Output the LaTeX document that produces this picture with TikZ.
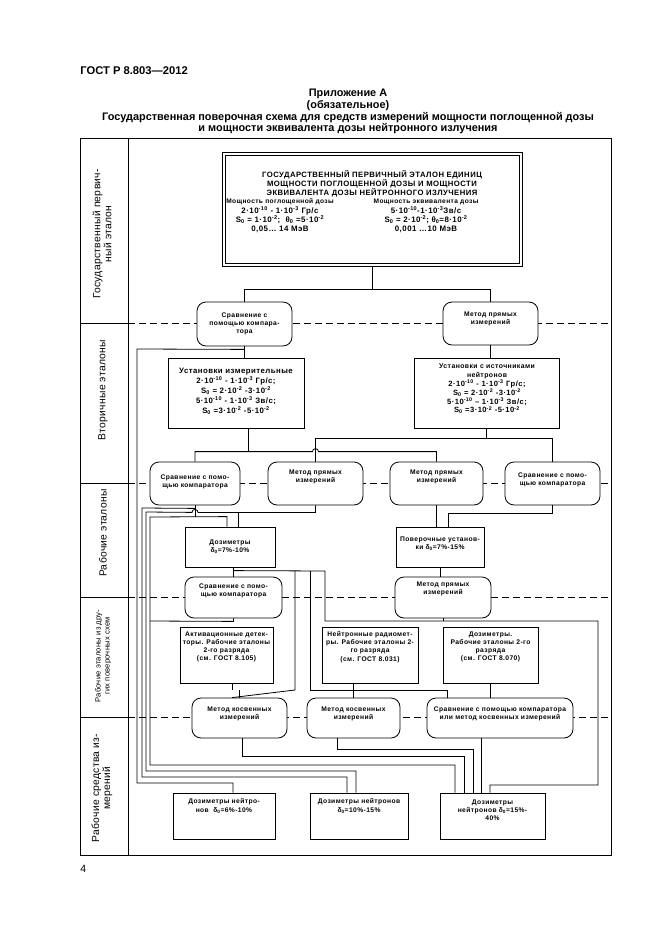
\documentclass[tikz,border=0pt]{standalone}
\usepackage{fontspec}
\setmainfont{Liberation Sans}
\newfontfamily\bxf[LetterSpace=6]{Liberation Sans}
\newfontfamily\lsf[LetterSpace=3]{Liberation Sans}
\usetikzlibrary{calc}
\newcommand\sups[1]{\textsuperscript{#1}}
\newcommand\subs[1]{\textsubscript{#1}}
\newcommand\bxat[6]{%
  \pgfmathsetmacro\bxw{#5-#3}\pgfmathsetmacro\bxh{#6-#4}%
  \pgfmathsetmacro\bxcx{(#3+#5)/2}\pgfmathsetmacro\bxcy{(#4+#6)/2}%
  \node[#2, minimum width=\bxw pt, minimum height=\bxh pt] (#1) at (\bxcx,\bxcy) {};}
\begin{document}
\begin{tikzpicture}[x=1pt,y=-1pt,line width=0.8pt,
  box/.style={draw,fill=white,inner sep=0pt},
  rbox/.style={draw,fill=white,rounded corners=9pt,inner sep=0pt},
  txt/.style={font=\bxf\bfseries\fontsize{6.7}{8.2}\selectfont,align=center,inner sep=0pt},
  btxt/.style={font=\bxf\bfseries\fontsize{7.8}{10}\selectfont,align=center,inner sep=0pt},
  lbl/.style={rotate=90,align=center,font=\lsf\fontsize{10.3}{11}\selectfont,inner sep=0pt},
  rowsep/.style={dash pattern=on 7pt off 4pt},
]
\useasboundingbox (0,0) rectangle (661,936);
\fill[white] (0,0) rectangle (661,936);

% header
\node[anchor=west,font=\bfseries\fontsize{11.2}{13}\selectfont,inner sep=0pt] (hdr) at (80,71) {ГОСТ Р 8.803—2012};
\node[anchor=north,font=\bfseries\fontsize{10.9}{11.7}\selectfont,align=center,inner sep=0pt] (ttl) at (348,89)
 {Приложение А\\(обязательное)\\Государственная поверочная схема для средств измерений мощности поглощенной дозы\\и мощности эквивалента дозы нейтронного излучения};
\node[anchor=west,font=\fontsize{10.5}{12}\selectfont,inner sep=0pt] (pg) at (80,869) {4};

% frame and rows
\draw (80,138) rectangle (611,855);
\draw (128,138) -- (128,855);
\foreach \yy in {323,483,597,717} {
  \draw (80,\yy) -- (128,\yy);
  \draw[rowsep] (128,\yy) -- (611,\yy);
}
\node[lbl] (L1) at (102,234) {Государственный первич-\\ный эталон};
\node[lbl] (L2) at (103,390) {Вторичные эталоны};
\node[lbl] (L3) at (103,533) {Рабочие эталоны};
\node[lbl,font=\lsf\fontsize{7.6}{9}\selectfont] (L4) at (103,656) {Рабочие эталоны из дру-\\гих поверочных схем};
\node[lbl] (L5) at (102,788) {Рабочие средства из-\\мерений};

% primary standard
\bxat{PE}{box}{222}{152}{522}{266}
\draw ($(PE.north west)+(3.5,3.5)$) rectangle ($(PE.south east)+(-3.5,-3.5)$);
\node[font=\bxf\bfseries\fontsize{7.7}{9}\selectfont,align=center,inner sep=0pt] (PEt) at (372,184)
 {ГОСУДАРСТВЕННЫЙ ПЕРВИЧНЫЙ ЭТАЛОН ЕДИНИЦ\\МОЩНОСТИ ПОГЛОЩЕННОЙ ДОЗЫ И МОЩНОСТИ\\ЭКВИВАЛЕНТА ДОЗЫ НЕЙТРОННОГО ИЗЛУЧЕНИЯ};
\node[font=\bxf\bfseries\fontsize{7.9}{9.3}\selectfont,align=center,inner sep=0pt] (PEl) at (280,216)
 {{\fontsize{6.6}{9.3}\selectfont Мощность поглощенной дозы}\\2·10\sups{-10} - 1·10\sups{-3} Гр/с\\S\subs{0} = 1·10\sups{-2};\ \ θ\subs{0} =5·10\sups{-2}\\0,05… 14 МэВ};
\node[font=\bxf\bfseries\fontsize{7.9}{9.3}\selectfont,align=center,inner sep=0pt] (PEr) at (426,216)
 {{\fontsize{6.6}{9.3}\selectfont Мощность эквивалента дозы}\\5·10\sups{-10}-1·10\sups{-3}Зв/с\\S\subs{0} = 2·10\sups{-2}; θ\subs{0}=8·10\sups{-2}\\0,001 …10 МэВ};

% row 1/2 ovals
\bxat{C1}{rbox}{197}{302}{292}{346}
\bxat{M1}{rbox}{443}{302}{538}{345}
\node[txt] (tC1) at (244.5,324) {Сравнение с\\помощью компара-\\тора};
\node[txt] (tM1) at (490.5,319) {Метод прямых\\измерений};

% secondary boxes
\bxat{B1}{box}{168}{358}{304}{428}
\bxat{B2}{box}{414}{358}{559}{428}
\node[btxt] (tB1) at (236,391) {Установки измерительные\\2·10\sups{-10} - 1·10\sups{-3} Гр/с;\\S\subs{0} = 2·10\sups{-2} -3·10\sups{-2}\\5·10\sups{-10} - 1·10\sups{-3} Зв/с;\\S\subs{0} =3·10\sups{-2} -5·10\sups{-2}};
\node[btxt,font=\bxf\bfseries\fontsize{7.6}{8.8}\selectfont] (tB2) at (487,389) {{\fontsize{6.9}{8.8}\selectfont Установки с источниками}\\{\fontsize{6.9}{8.8}\selectfont нейтронов}\\2·10\sups{-10} - 1·10\sups{-3} Гр/с;\\S\subs{0} = 2·10\sups{-2} -3·10\sups{-2}\\5·10\sups{-10} – 1·10\sups{-3} Зв/с;\\S\subs{0} =3·10\sups{-2} -5·10\sups{-2}};

% row 2/3 ovals
\bxat{o1}{rbox}{150}{462}{240}{505}
\bxat{o2}{rbox}{268}{462}{363}{505}
\bxat{o3}{rbox}{390}{462}{483}{505}
\bxat{o4}{rbox}{505}{462}{600}{505}
\node[txt] (to1) at (195,482) {Сравнение с помо-\\щью компаратора};
\node[txt] (to2) at (315.5,477) {Метод прямых\\измерений};
\node[txt] (to3) at (436.5,477) {Метод прямых\\измерений};
\node[txt] (to4) at (552.5,480) {Сравнение с помо-\\щью компаратора};

% working standards
\bxat{D0}{box}{185}{527}{275}{567}
\bxat{P}{box}{396}{527}{484}{567}
\node[txt] (tD0) at (230,547) {Дозиметры\\δ\subs{0}=7\%-10\%};
\node[txt] (tP) at (440,544) {Поверочные установ-\\ки δ\subs{0}=7\%-15\%};

\bxat{S3}{rbox}{185}{577}{282}{618}
\bxat{MP}{rbox}{395}{577}{491}{618}
\node[txt] (tS3) at (233.5,591) {Сравнение с помо-\\щью компаратора};
\node[txt] (tMP) at (443,589) {Метод прямых\\измерений};

% other schemes
\bxat{A}{box}{180}{627}{273}{683}
\bxat{B}{box}{322}{627}{418}{683}
\bxat{C}{box}{443}{627}{538}{683}
\node[txt] (tA) at (226.5,647) {Активационные детек-\\торы. Рабочие эталоны\\2-го разряда\\(см. ГОСТ 8.105)};
\node[txt] (tB) at (370,647) {Нейтронные радиомет-\\ры. Рабочие эталоны 2-\\го разряда\\(см. ГОСТ 8.031)};
\node[txt] (tC) at (490.5,647) {Дозиметры.\\Рабочие эталоны 2-го\\разряда\\(см. ГОСТ 8.070)};

\bxat{K1}{rbox}{192}{698}{287}{738}
\bxat{K2}{rbox}{307}{698}{400}{738}
\bxat{K3}{rbox}{427}{698}{573}{738}
\node[txt] (tK1) at (239.5,714) {Метод косвенных\\измерений};
\node[txt] (tK2) at (353.5,714) {Метод косвенных\\измерений};
\node[txt] (tK3) at (500,714) {Сравнение с помощью компаратора\\или метод косвенных измерений};

% working instruments
\bxat{D1}{box}{173}{793}{275}{839}
\bxat{D2}{box}{310}{793}{408}{839}
\bxat{D3}{box}{440}{793}{545}{839}
\node[txt] (tD1) at (224,806) {Дозиметры нейтро-\\нов\ \ δ\subs{0}=6\%-10\%};
\node[txt] (tD2) at (359,806) {Дозиметры нейтронов\\δ\subs{0}=10\%-15\%};
\node[txt] (tD3) at (492.5,810) {Дозиметры\\нейтронов δ\subs{0}=15\%-\\40\%};

% connectors
\draw (PE.south) -- ++(0,24);
\draw (C1.north) -- ++(0,-12) -| (M1.north);
\draw (C1.south) -- (B1.north -| C1.south);
\draw ($(C1.south)+(0,3)$) -- (137,349) -- (137,783) -| ([xshift=9pt]D1.north);
\draw (M1.south) -- (B2.north -| M1.south);

\draw ([xshift=12pt]B1.south) -- ++(0,24);
\draw (o1.north) -- ++(0,-10) -- ($(o2.north)+(-3,-10)$) arc[start angle=180,end angle=360,radius=3] -| (o3.north);
\draw (B2.south) -- ++(0,11);
\draw (o2.north) -- ++(0,-23) -| (o4.north);

\draw (o1.south) -- ++(0,12);
\draw ($(o1.south)+(0,3)$) -- (142,508) -- (142,777) -| ([xshift=-12pt]D2.north);
\draw ([xshift=-3pt]D0.north) -- ++(0,-10) -- (150,517) -- (150,765) -| ([xshift=-37.5pt]D3.north);
\draw (o2.south) -- ++(0,7) -- ($(o1.south)+(3,7)$) arc[start angle=0,end angle=-180,radius=3] -- (146,512) -- (146,771) -| ([xshift=-3pt]D2.north);
\draw ([xshift=8pt]D0.north) -- ++(0,-15);

\draw (o3.south) -- (P.north -| o3.south);
\draw (o4.south) -- ++(0,8) -| ([xshift=8pt]P.north);

\draw (S3.north) -- ++(0,-10);
\draw ($(S3.north)+(0,-6)$) -- (325,571) -- (325,621) -- (598,621) -- (598,785) -| ([xshift=-2.5pt]D3.north);
\draw (295,571) -- (295,690) -- ([xshift=5.5pt]A.south |- K1.north) ;
\draw ([xshift=5.5pt]A.south) -- ++(0,7);
\draw (K1.north) -- ++(0,-8);
\draw (310,571) -- (310,690) -| ([xshift=-53pt]K3.north);
\draw (K2.north) -- (K2.north |- B.south);
\draw (C.south) -- (K3.north -| C.south);

\draw (P.south) -- (MP.north -| P.south);
\draw (MP.south) -- ++(0,3);
\draw (S3.south) -- ++(0,3) -- (150,621);

\draw ([xshift=2.5pt]K1.south) -- ++(0,18) -| ([xshift=-28.5pt]D3.north);
\draw ([xshift=-16.5pt]K2.south) -- ++(0,11) -| ([xshift=-19.5pt]D3.north);
\draw ([xshift=-19pt]K3.south) -- ([xshift=-11.5pt]D3.north);
\end{tikzpicture}
\end{document}
